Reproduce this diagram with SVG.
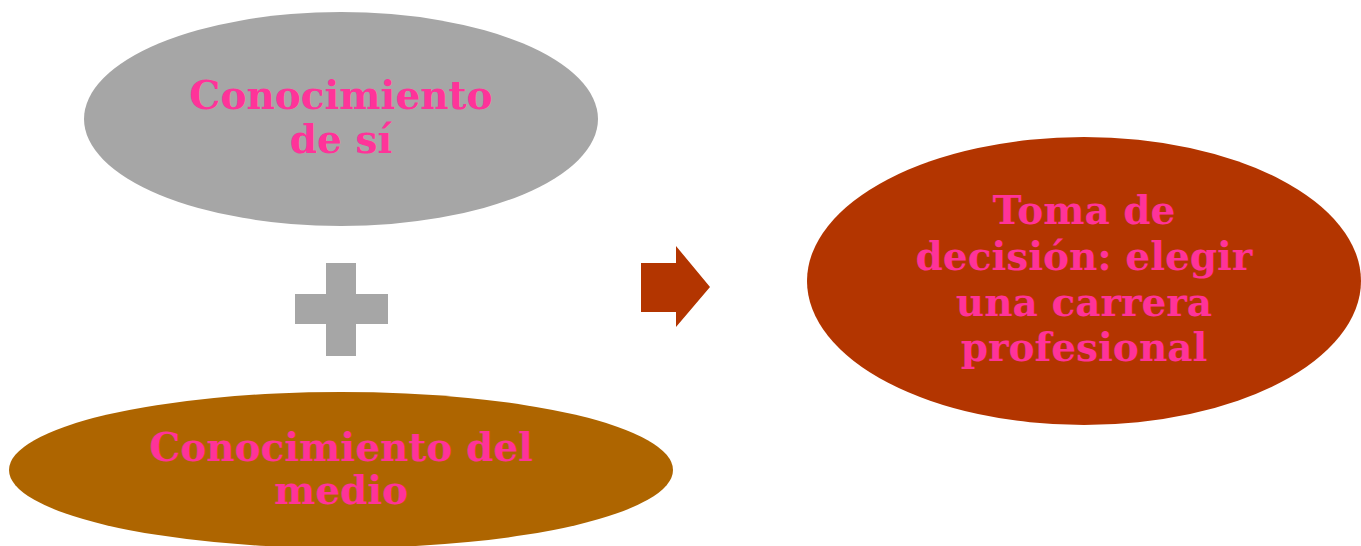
<svg xmlns="http://www.w3.org/2000/svg" width="1361" height="546" viewBox="0 0 1361 546">
<style>
.t{font-family:"DejaVu Serif","Liberation Serif",serif;font-weight:bold;font-size:39px;fill:#ff3399;text-anchor:middle}
</style>
<rect width="1361" height="546" fill="#ffffff"/>
<g id="node-self">
<ellipse cx="341" cy="119" rx="257" ry="107" fill="#a6a6a6"/>
<text class="t" x="341" y="109">Conocimiento</text>
<text class="t" x="341" y="153">de sí</text>
</g>
<g id="node-plus">
<path d="M326 263H356V294H388V324H356V356H326V324H295V294H326Z" fill="#a6a6a6"/>
</g>
<g id="node-medio">
<ellipse cx="341" cy="470" rx="332" ry="78" fill="#ae6500"/>
<text class="t" x="341" y="461">Conocimiento del</text>
<text class="t" x="341" y="504">medio</text>
</g>
<g id="connectors">
<path d="M641 263H676V246L710 287L676 327V312H641Z" fill="#b33500"/>
</g>
<g id="node-decision">
<ellipse cx="1084" cy="281" rx="277" ry="144" fill="#b33500"/>
<text class="t" x="1084" y="224">Toma de</text>
<text class="t" x="1084" y="270">decisión: elegir</text>
<text class="t" x="1084" y="316">una carrera</text>
<text class="t" x="1084" y="361">profesional</text>
</g>
</svg>
